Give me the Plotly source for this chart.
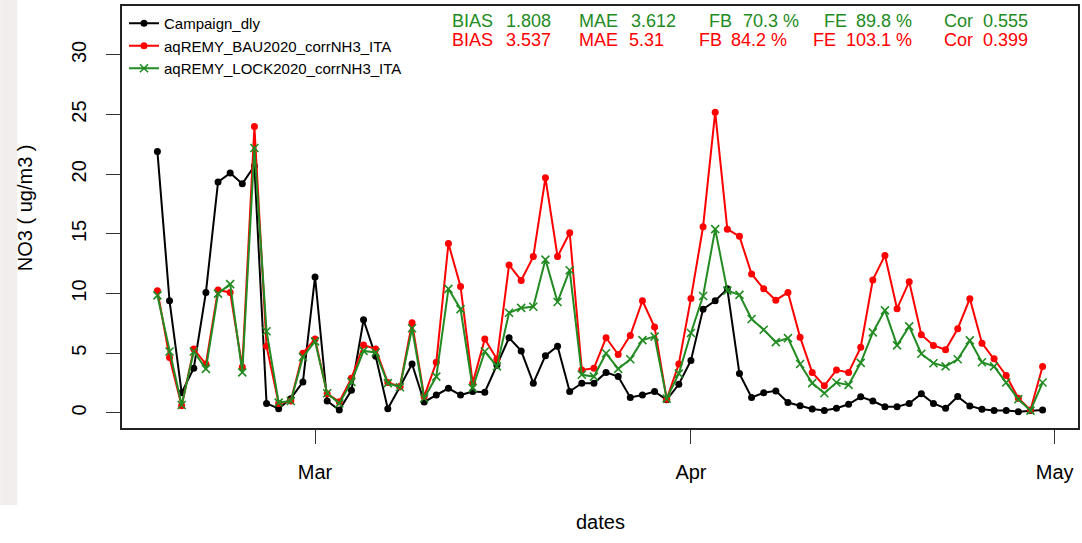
import pandas as pd
import plotly.graph_objects as go

# ---------------- data ----------------
start_date = "2020-02-17"
end_date = "2020-04-30"

campaign = [21.9, 9.4, 1.7, 3.75, 10.1, 19.35, 20.1, 19.2, 20.7, 0.8, 0.36, 1.2, 2.6,
            11.4, 1.0, 0.25, 1.9, 7.8, 4.75, 0.36, 2.2, 4.1, 0.92, 1.5, 2.07, 1.5, 1.8, 1.74,
            4.0, 6.3, 5.2, 2.5, 4.8, 5.6, 1.8, 2.5, 2.5, 3.4, 3.05, 1.3, 1.5, 1.8, 1.1, 2.4,
            4.4, 8.7, 9.4, 10.4, 3.3, 1.3, 1.7, 1.85, 0.87, 0.6, 0.34, 0.2, 0.39, 0.73, 1.35,
            1.0, 0.53, 0.53, 0.8, 1.6, 0.8, 0.39, 1.37, 0.59, 0.31, 0.2, 0.2, 0.11, 0.2, 0.25]

bau = [10.25, 4.65, 0.6, 5.35, 4.1, 10.3, 10.1, 3.85, 24.0, 5.6, 0.8, 1.0, 5.0,
       6.2, 1.6, 0.95, 2.9, 5.7, 5.35, 2.55, 2.2, 7.55, 1.37, 4.25, 14.2, 10.6, 2.5, 6.2,
       4.5, 12.4, 11.1, 13.1, 19.7, 13.1, 15.1, 3.6, 3.75, 6.3, 4.9, 6.5, 9.4, 7.2, 1.15, 4.1,
       9.6, 15.6, 25.2, 15.4, 14.8, 11.65, 10.4, 9.45, 10.1, 6.35, 3.4, 2.27, 3.6, 3.4, 5.5,
       11.15, 13.2, 8.74, 11.0, 6.55, 5.66, 5.3, 7.06, 9.58, 5.85, 4.54, 3.14, 1.23, 0.25, 3.9]

lock = [9.85, 5.15, 0.67, 5.15, 3.7, 10.0, 10.8, 3.4, 22.2, 6.85, 0.87, 1.0, 4.7,
        6.0, 1.65, 0.8, 2.6, 5.2, 5.07, 2.5, 2.15, 7.1, 1.23, 3.05, 10.4, 8.7, 2.07, 5.15,
        3.9, 8.4, 8.8, 8.9, 12.85, 9.3, 11.96, 3.2, 3.05, 5.0, 3.7, 4.5, 6.1, 6.4, 1.2, 3.3,
        6.7, 9.8, 15.4, 10.25, 9.9, 7.87, 6.97, 5.94, 6.27, 4.1, 2.5, 1.65, 2.55, 2.35, 4.2,
        6.75, 8.6, 5.66, 7.25, 4.96, 4.17, 3.9, 4.5, 6.08, 4.25, 3.9, 2.55, 1.15, 0.2, 2.55]

series_names = ["Campaign_dly", "aqREMY_BAU2020_corrNH3_ITA", "aqREMY_LOCK2020_corrNH3_ITA"]

x_tick_dates = ["2020-03-01", "2020-04-01", "2020-05-01"]
x_tick_labels = ["Mar", "Apr", "May"]
y_tick_values = [0, 5, 10, 15, 20, 25, 30]

stat_names = ["BIAS", "MAE", "FB", "FE", "Cor"]
lock_stats = ["1.808", "3.612", "70.3 %", "89.8 %", "0.555"]
bau_stats = ["3.537", "5.31", "84.2 %", "103.1 %", "0.399"]

# ---------------- layout constants ----------------
W, H = 1082, 543
PL, PR, PT, PB = 122, 1080, 6, 428  # plot box in pixels
FONT = "Liberation Sans, Arial, sans-serif"
BLACK, RED, GREEN = "#000000", "#ff0000", "#228B22"

dates = pd.date_range(start_date, end_date, freq="D")
span = dates[-1] - dates[0]
xr = [dates[0] - 0.04 * span, dates[-1] + 0.04 * span]


def px_x(p):
    return (p - PL) / (PR - PL)


def px_y(p):
    return (PB - p) / (PB - PT)


fig = go.Figure()
fig.add_trace(go.Scatter(x=dates, y=campaign, name=series_names[0], mode="lines+markers",
                         line=dict(color=BLACK, width=2),
                         marker=dict(symbol="circle", size=7, color=BLACK)))
fig.add_trace(go.Scatter(x=dates, y=bau, name=series_names[1], mode="lines+markers",
                         line=dict(color=RED, width=2),
                         marker=dict(symbol="circle", size=7, color=RED)))
fig.add_trace(go.Scatter(x=dates, y=lock, name=series_names[2], mode="lines+markers",
                         line=dict(color=GREEN, width=2),
                         marker=dict(symbol="x-thin", size=8, color=GREEN,
                                     line=dict(color=GREEN, width=1.6))))

annotations = []
lab_x = [452, 579, 709, 824, 945]
val_x_g = [506, 631, 743, 857, 984]
lab_x_r = [452, 579, 699, 813, 945]
val_x_r = [506, 629, 731, 847, 984]
for i in range(len(stat_names)):
    for (lx, vx, val, col, py) in [(lab_x[i], val_x_g[i], lock_stats[i], GREEN, 21),
                                   (lab_x_r[i], val_x_r[i], bau_stats[i], RED, 40)]:
        annotations.append(dict(x=px_x(lx), y=px_y(py), xref="paper", yref="paper",
                                text=stat_names[i], showarrow=False, xanchor="left",
                                yanchor="middle", font=dict(size=18, color=col, family=FONT),
                                borderpad=0))
        annotations.append(dict(x=px_x(vx), y=px_y(py), xref="paper", yref="paper",
                                text=val, showarrow=False, xanchor="left",
                                yanchor="middle", font=dict(size=18, color=col, family=FONT),
                                borderpad=0))

# axis titles
annotations.append(dict(x=px_x(601), y=px_y(522), xref="paper", yref="paper", text="dates",
                        showarrow=False, xanchor="center", yanchor="middle",
                        font=dict(size=20, color="#000", family=FONT)))
annotations.append(dict(x=px_x(25), y=px_y(208), xref="paper", yref="paper",
                        text="NO3 ( ug/m3 )", textangle=-90, showarrow=False,
                        xanchor="center", yanchor="middle",
                        font=dict(size=20, color="#000", family=FONT)))

fig.update_layout(
    width=W, height=H,
    margin=dict(l=PL, r=W - PR, t=PT, b=H - PB, pad=0),
    paper_bgcolor="white", plot_bgcolor="white",
    font=dict(family=FONT, color="black"),
    showlegend=True,
    legend=dict(x=px_x(124), y=px_y(7), xanchor="left", yanchor="top",
                bgcolor="rgba(0,0,0,0)",
                font=dict(size=15, family=FONT), tracegroupgap=0, itemwidth=30),
    annotations=annotations,
    shapes=[dict(type="rect", xref="paper", yref="paper", x0=px_x(0), x1=px_x(17),
                 y0=px_y(505), y1=px_y(0), fillcolor="#f1eeed", line=dict(width=0),
                 layer="below")],
    xaxis=dict(type="date", range=xr, tickvals=x_tick_dates, ticktext=x_tick_labels,
               ticks="outside", ticklen=14, tickwidth=1, tickcolor="#333",
               showline=True, linecolor="#222", linewidth=1.5, mirror=True,
               showgrid=False, zeroline=False, ticklabelstandoff=11,
               tickfont=dict(size=20, family=FONT)),
    yaxis=dict(range=[-1.26, 34.1], tickvals=y_tick_values, tickangle=-90,
               ticks="outside", ticklen=14, tickwidth=1, tickcolor="#333",
               showline=True, linecolor="#222", linewidth=1.5, mirror=True,
               showgrid=False, zeroline=False, ticklabelstandoff=12,
               tickfont=dict(size=20, family=FONT)),
)

fig.write_html("out.html")
